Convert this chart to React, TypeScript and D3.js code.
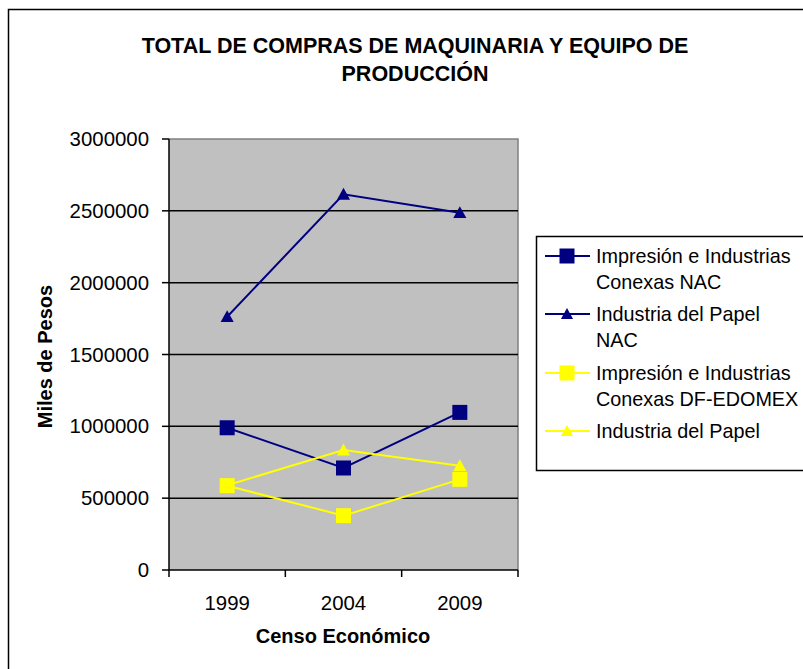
import React from "react";
import * as d3 from "d3";

const categories = ["1999", "2004", "2009"];
const seriesNames = [
  "Impresión e Industrias|Conexas NAC",
  "Industria del Papel|NAC",
  "Impresión e Industrias|Conexas DF-EDOMEX",
  "Industria del Papel",
];
const impresionNAC = [990000, 710000, 1097000];
const papelNAC = [1763000, 2615000, 2487000];
const impresionDF = [587000, 378000, 631000];
const papelDF = [590000, 835000, 726000];
const yTicks = [0, 500000, 1000000, 1500000, 2000000, 2500000, 3000000];

const series = [
  { name: seriesNames[0], values: impresionNAC, color: "#000080", marker: "square" },
  { name: seriesNames[1], values: papelNAC, color: "#000080", marker: "triangle" },
  { name: seriesNames[2], values: impresionDF, color: "#FFFF00", marker: "square" },
  { name: seriesNames[3], values: papelDF, color: "#FFFF00", marker: "triangle" },
];

const W = 803, H = 669;
const plot = { left: 169, right: 518, top: 139, bottom: 570 };
const FONT = "Arial, 'Liberation Sans', sans-serif";
const FS = 20.4;

function Marker({ type, x, y, color, size }: { type: string; x: number; y: number; color: string; size: number }) {
  if (type === "square") {
    return <rect x={x - size / 2} y={y - size / 2} width={size} height={size} fill={color} />;
  }
  const s = size * 0.85;
  const p = `M${x},${y - s * 0.55} L${x + s * 0.55},${y + s * 0.45} L${x - s * 0.55},${y + s * 0.45} Z`;
  return <path d={p} fill={color} />;
}

export default function App() {
  const x = d3.scaleBand().domain(categories).range([plot.left, plot.right]);
  const y = d3.scaleLinear().domain([0, 3000000]).range([plot.bottom, plot.top]);
  const cx = (c: string) => (x(c) as number) + x.bandwidth() / 2;
  const line = d3
    .line<number>()
    .x((_, i) => cx(categories[i]))
    .y((v) => y(v));
  const xTicks = [plot.left, ...categories.map((c) => (x(c) as number) + x.bandwidth())];

  const legendRows = [256, 314, 373, 431];

  return (
    <svg width={W} height={H} style={{ position: "absolute", left: 0, top: 0, background: "#fff" }} fontFamily={FONT}>
      <rect x={0} y={0} width={W} height={H} fill="#fff" />
      <rect x={8.5} y={9.5} width={830} height={700} fill="none" stroke="#000" strokeWidth={1.5} />
      <text x={415} y={53} textAnchor="middle" fontWeight="bold" fontSize={21.5}>
        TOTAL DE COMPRAS DE MAQUINARIA Y EQUIPO DE
      </text>
      <text x={415} y={81} textAnchor="middle" fontWeight="bold" fontSize={21.5}>
        PRODUCCIÓN
      </text>

      {/* plot area */}
      <rect x={plot.left} y={plot.top} width={plot.right - plot.left} height={plot.bottom - plot.top} fill="#C0C0C0" />
      <path d={`M${plot.left},${plot.top}H${plot.right}V${plot.bottom}`} fill="none" stroke="#808080" strokeWidth={1.5} />
      {yTicks.slice(1, -1).map((t) => (
        <line key={t} x1={plot.left} x2={plot.right} y1={y(t)} y2={y(t)} stroke="#000" strokeWidth={1.5} />
      ))}
      {/* axes */}
      <line x1={plot.left} x2={plot.left} y1={plot.top} y2={plot.bottom} stroke="#000" strokeWidth={1.5} />
      <line x1={plot.left} x2={plot.right} y1={plot.bottom} y2={plot.bottom} stroke="#000" strokeWidth={1.5} />
      {yTicks.map((t) => (
        <g key={t}>
          <line x1={plot.left - 7} x2={plot.left} y1={y(t)} y2={y(t)} stroke="#000" strokeWidth={1.5} />
          <text x={plot.left - 20} y={y(t) + 7} textAnchor="end" fontSize={FS}>
            {t}
          </text>
        </g>
      ))}
      {xTicks.map((t, i) => (
        <line key={i} x1={t} x2={t} y1={plot.bottom} y2={plot.bottom + 7} stroke="#000" strokeWidth={1.5} />
      ))}
      {categories.map((c) => (
        <text key={c} x={cx(c)} y={610} textAnchor="middle" fontSize={FS}>
          {c}
        </text>
      ))}
      <text x={343} y={643} textAnchor="middle" fontWeight="bold" fontSize={20}>
        Censo Económico
      </text>
      <text transform={`translate(52,${(plot.top + plot.bottom) / 2 + 2}) rotate(-90)`} textAnchor="middle" fontWeight="bold" fontSize={20}>
        Miles de Pesos
      </text>

      {/* series */}
      {series.map((s, si) => (
        <g key={si}>
          <path d={line(s.values) as string} fill="none" stroke={s.color} strokeWidth={2} />
          {s.values.map((v, i) => (
            <Marker key={i} type={s.marker} x={cx(categories[i])} y={y(v)} color={s.color} size={s.marker === "square" ? 15 : 14} />
          ))}
        </g>
      ))}

      {/* legend */}
      <rect x={536.5} y={236.5} width={300} height={234} fill="#fff" stroke="#000" strokeWidth={1.5} />
      {series.map((s, i) => {
        const ly = legendRows[i];
        const lines = s.name.split("|");
        return (
          <g key={i}>
            <line x1={545} x2={590} y1={ly} y2={ly} stroke={s.color} strokeWidth={2} />
            <Marker type={s.marker} x={567} y={ly} color={s.color} size={s.marker === "square" ? 15 : 13} />
            {lines.map((t, j) => (
              <text key={j} x={596} y={ly + 7 + j * 25.5} fontSize={19.8}>
                {t}
              </text>
            ))}
          </g>
        );
      })}
    </svg>
  );
}
